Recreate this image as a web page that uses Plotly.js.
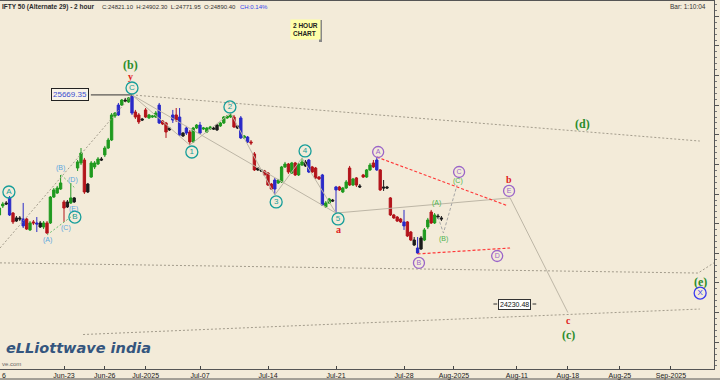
<!DOCTYPE html>
<html><head><meta charset="utf-8">
<script src="https://cdn.plot.ly/plotly-3.0.1.min.js"></script>
<style>html,body{margin:0;padding:0;background:#f3ebd9;}#chart{width:720px;height:380px;}</style>
</head><body><div id="chart"></div>
<script>
// ---- candle data (2-hour bars, bar number = position in arrays + 1) ----
const barOpen = [
 24859,24920,24940,24974,24872,24839,24839,24832,24832,24758,
 24812,24805,24805,24778,24805,24805,24980,25007,25034,24947,
 24947,24940,24974,25176,25210,25230,25068,25115,25183,25203,
 25237,25264,25311,25365,25527,25534,25601,25635,25622,25662,
 25554,25534,25507,25568,25514,25520,25520,25601,25493,25480,
 25446,25500,25534,25520,25412,25446,25419,25352,25446,25466,
 25439,25419,25439,25446,25466,25460,25480,25514,25520,25520,
 25460,25514,25379,25385,25352,25271,25176,25163,25156,25142,
 25068,25034,25075,25082,25183,25203,25142,25210,25129,25196,
 25217,25230,25183,25176,25115,25129,24913,24940,24960,25028,
 25048,25014,25041,25176,25061,25109,25055,25129,25115,25163,
 25210,25163,25163,25048,25048,24974,24859,24845,24832,24812,
 24812,24744,24690,24636,24629,24690,24778,24879,24805,24852,24839];
const barHigh = [
 24926,24947,24953,24987,24879,24852,24852,24940,24839,24818,
 24825,24845,24818,24818,24818,24987,25041,25055,25129,24960,
 24960,25075,24980,25230,25311,25244,25075,25223,25223,25250,
 25250,25325,25379,25547,25554,25615,25642,25649,25655,25669.35,
 25568,25547,25514,25581,25541,25534,25561,25615,25500,25487,
 25453,25568,25581,25581,25419,25460,25433,25453,25473,25487,
 25453,25453,25460,25453,25473,25487,25527,25534,25547,25534,
 25466,25527,25399,25392,25365,25284,25183,25169,25163,25149,
 25075,25109,25102,25190,25217,25210,25217,25217,25210,25244,
 25230,25237,25190,25183,25122,25136,24953,24974,24967,25055,
 25055,25048,25095,25190,25109,25115,25068,25136,25169,25210,
 25230,25250,25169,25095,25055,24980,24866,24852,24839,24893,
 24818,24751,24710,24710,24717,24771,24839,24893,24872,24866,24852];
const barLow = [
 24845,24906,24926,24852,24798,24812,24818,24771,24758,24751,
 24791,24744,24771,24764,24731,24798,24974,25001,25028,24812,
 24906,24933,24940,25156,25196,25001,25007,25109,25169,25196,
 25223,25250,25304,25358,25514,25527,25595,25622,25615,25534,
 25507,25473,25493,25514,25507,25514,25514,25473,25466,25379,
 25426,25480,25487,25392,25385,25399,25331,25345,25439,25406,
 25433,25412,25433,25433,25426,25453,25473,25507,25514,25446,
 25439,25372,25372,25345,25331,25156,25156,25149,25122,25055,
 25028,24994,25068,25075,25176,25136,25136,25122,25122,25190,
 25183,25142,25142,25102,25095,24920,24906,24933,24947,24872,
 25021,25007,25034,25055,25055,25048,25041,25109,25109,25156,
 25176,25156,25021,25021,25034,24852,24832,24812,24805,24758,
 24710,24683,24650,24596,24623,24683,24764,24798,24798,24832,24818];
const barClose = [
 24906,24933,24933,24859,24812,24818,24832,24785,24764,24805,
 24805,24798,24778,24805,24737,24980,25028,25041,25075,24906,
 24913,24974,24947,25217,25277,25014,25014,25210,25210,25237,
 25230,25311,25365,25534,25547,25601,25635,25628,25649,25547,
 25520,25487,25500,25520,25534,25527,25547,25480,25473,25419,
 25433,25534,25500,25399,25392,25412,25352,25446,25466,25412,
 25446,25446,25453,25439,25433,25480,25520,25527,25534,25453,
 25446,25379,25392,25352,25345,25163,25163,25156,25129,25061,
 25034,25095,25095,25183,25203,25149,25210,25129,25203,25217,
 25190,25149,25149,25109,25102,24926,24940,24967,24953,25048,
 25028,25041,25082,25061,25102,25061,25048,25115,25163,25196,
 25183,25230,25028,25041,25041,24859,24839,24818,24812,24785,
 24717,24690,24656,24602,24704,24758,24825,24805,24859,24845,24832];
// bar colour class used by the charting package: g up, r down, b wide-range, k small
const barClass = ('ggkbrkkbrg'+'rbkgrggggr'+'kgkggrkggg'+'kggggbgkgb'+'rrkrgggbrr'+
  'kbrbkbrggb'+'gggkkggggr'+'kbgbrrkkrr'+'rbgggrgrgg'+'kbrrrbggkb'+'rggrgrkrgg'+
  'rbrkkrrrrb'+'rrkbkggrgkk').split('');

// ---- x axis ticks (bar numbers) ----
const tickBars = [20, 32, 44, 60, 80, 100, 120, 134.7, 153.2, 168.2, 183.5, 198.5];
const tickLabels = ['Jun-23','Jun-26','Jul-2025','Jul-07','Jul-14','Jul-21','Jul-28','Aug-2025','Aug-11','Aug-18','Aug-25','Sep-2025'];

// ---- trend / wave lines (bar, price) ----
const upperLineBars = [40, 207];            const upperLinePrices = [25669.35, 25358];
const lowerLineBars = [0, 206.5, 211.5];    const lowerLinePrices = [24536, 24467, 24541];
const baseLineBars = [25.6, 207];           const baseLinePrices = [24052, 24224];
const riseLineBars = [1.18, 40];            const riseLinePrices = [24636, 25669.35];
const impulseBars = [40, 57, 69, 82, 90, 100];
const impulsePrices = [25669.35, 25331, 25547, 24994, 25244, 24872];
const diagBars = [40, 100];                 const diagPrices = [25669.35, 24872];
const abcBars = [100, 151.2, 168.2];        const abcPrices = [24872, 24974, 24200];
const projBars = [130, 131.6, 135.6];       const projPrices = [24845, 24737, 25061];
const redUpperBars = [112, 150.6];          const redUpperPrices = [25250, 24920];
const redLowerBars = [124, 151.2];          const redLowerPrices = [24596, 24636];
const peakLineBars = [27.9, 40];            const peakLinePrices = [25669.35, 25669.35];
const targetStubBars = [146.3, 147.4, 157.8, 158.9];
const targetStubPrices = [24258, 24258, 24258, 24258];
const greenDot1Bars = [15, 23.2];           const greenDot1Prices = [24724, 24866];
const greenDot2Bars = [19.2, 23.2];         const greenDot2Prices = [25129, 25041];

// ---- wave labels ----
const tealText = ['A','B','C','1','2','3','4','5'];
const tealBars = [3.8, 23.2, 40, 57.6, 68.8, 82.4, 90.9, 100.6];
const tealPrices = [25014, 24845, 25716, 25284, 25588, 24947, 25291, 24832];
const purpleText = ['A','B','C','D','E'];
const purpleBars = [112.4, 124.4, 136.2, 147.4, 150.9];
const purplePrices = [25284, 24535, 25149, 24582, 25021];
const blueText = ['X']; const blueBars = [207.1]; const bluePrices = [24332];
const greenBigText = ['(b)','(c)','(d)','(e)'];
const greenBigBars = [39.7, 168.5, 172.4, 207.1];
const greenBigPrices = [25872, 24046, 25473, 24407];
const redText = ['y','a','b','c'];
const redBars = [39.7, 100.6, 150.9, 168.5];
const redPrices = [25796, 24764, 25100, 24145];
const lightBlueText = ['(A)','(B)','(C)','(D)','(E)'];
const lightBlueBars = [15, 19.1, 20.6, 22.6, 22.9];
const lightBluePrices = [24690, 25176, 24771, 25095, 24899];
const smallGreenText = ['(A)','(B)','(C)'];
const smallGreenBars = [129.7, 131.5, 135.9];
const smallGreenPrices = [24940, 24697, 25088];
const peakValue = 25669.35, targetValue = 24230.48, lastPrice = 24845;

// ---------------------------------------------------------------
const BG = '#f3ebd9';
const colorOf = {g:'#1f9a1f', r:'#b3141b', b:'#2a2ac8', k:'#1c1c1c'};
const data = [];
function line(xs, ys, color, width, dash) {
  data.push({type:'scatter', mode:'lines', x:xs, y:ys, hoverinfo:'skip', showlegend:false,
    line:{color:color, width:width, dash:dash||'solid'}});
}
line(upperLineBars, upperLinePrices, '#a39c8c', 1, '2px,2px');
line(lowerLineBars, lowerLinePrices, '#a39c8c', 1, '2px,2px');
line(baseLineBars, baseLinePrices, '#a39c8c', 1, '2px,2px');
line(riseLineBars, riseLinePrices, '#a39c8c', 1, '2px,2px');
line(impulseBars, impulsePrices, '#bdb6a6', 1);
line(diagBars, diagPrices, '#bdb6a6', 1);
line(abcBars, abcPrices, '#bdb6a6', 1);
line(projBars, projPrices, '#a6a6a6', 1, '3px,2px');
line(redUpperBars, redUpperPrices, '#ff3838', 1.2, '3px,2px');
line(redLowerBars, redLowerPrices, '#ff3838', 1.2, '3px,2px');
line(peakLineBars, peakLinePrices, '#333333', 1);
line(greenDot1Bars, greenDot1Prices, '#6cbf6c', 1, '2px,2px');
line(greenDot2Bars, greenDot2Prices, '#6cbf6c', 1, '2px,2px');
data.push({type:'scatter', mode:'lines', x:[targetStubBars[0],targetStubBars[1],null,targetStubBars[2],targetStubBars[3]],
  y:[targetStubPrices[0],targetStubPrices[1],null,targetStubPrices[2],targetStubPrices[3]],
  line:{color:'#333', width:1}, hoverinfo:'skip', showlegend:false});

['g','r','b','k'].forEach(code => {
  const xs=[],o=[],h=[],l=[],c=[];
  barClass.forEach((cc,i) => { if (cc===code) { xs.push(i+1); o.push(barOpen[i]); h.push(barHigh[i]); l.push(barLow[i]); c.push(barClose[i]); } });
  const col = colorOf[code];
  data.push({type:'candlestick', x:xs, open:o, high:h, low:l, close:c, whiskerwidth:0,
    increasing:{line:{color:col, width:1}, fillcolor:col},
    decreasing:{line:{color:col, width:1}, fillcolor:col},
    hoverinfo:'skip', showlegend:false});
});

function circles(xs, ys, txt, color, size) {
  data.push({type:'scatter', mode:'markers+text', x:xs, y:ys, text:txt, textposition:'middle center',
    textfont:{family:'Liberation Sans, Arial', size:size-4, color:color},
    marker:{symbol:'circle', size:size, color:'rgba(0,0,0,0)', line:{color:color, width:1.3}},
    hoverinfo:'skip', showlegend:false, cliponaxis:false});
}
circles(tealBars, tealPrices, tealText, '#169e9a', 12);
circles(purpleBars, purplePrices, purpleText, '#9a64c8', 11);
circles(blueBars, bluePrices, blueText, '#3a3aee', 12);
// last-price marker on the price axis
data.push({type:'scatter', mode:'markers', x:[212.2], y:[lastPrice], cliponaxis:false, hoverinfo:'skip', showlegend:false,
  marker:{symbol:'triangle-left', size:9, color:'#17c617', line:{color:'#0a8a0a', width:1}}});

const ann = [];
function labels(xs, ys, txt, color, size, family, bold) {
  txt.forEach((t,i) => ann.push({x:xs[i], y:ys[i], xref:'x', yref:'y', text:t, showarrow:false,
    xanchor:'center', yanchor:'middle', font:{family:family, size:size, color:color, weight:bold?'bold':'normal'}}));
}
labels(greenBigBars, greenBigPrices, greenBigText, '#2a8c2a', 12, 'Liberation Serif, Times New Roman', true);
labels(redBars, redPrices, redText, '#e02222', 10, 'Liberation Serif, Times New Roman', true);
labels(lightBlueBars, lightBluePrices, lightBlueText, '#5aa6de', 7, 'Liberation Sans, Arial', false);
labels(smallGreenBars, smallGreenPrices, smallGreenText, '#4db34d', 7, 'Liberation Sans, Arial', false);

// price boxes
ann.push({x:21.9, y:peakValue, xref:'x', yref:'y', text:peakValue.toFixed(2), showarrow:false,
  font:{family:'Liberation Sans, Arial', size:8, color:'#3a4fd0'}, bgcolor:'#f8f3e8', bordercolor:'#222', borderwidth:1, borderpad:1});
ann.push({x:152.6, y:24258, xref:'x', yref:'y', text:targetValue.toFixed(2), showarrow:false,
  font:{family:'Liberation Sans, Arial', size:7, color:'#111'}, bgcolor:'#ffffff', bordercolor:'#333', borderwidth:1, borderpad:1});

// paper helpers (plot area: x 0..714, y 1..369 in page pixels)
const PX = x => x/714, PY = y => 1 - (y-1)/368;
function ptext(x, y, t, size, color, anchor, weight, extra) {
  ann.push(Object.assign({x:PX(x), y:PY(y), xref:'paper', yref:'paper', text:t, showarrow:false,
    xanchor:anchor||'left', yanchor:'middle', font:{family:'Liberation Sans, Arial', size:size, color:color, weight:weight||'normal'}}, extra||{}));
}
ptext(0, 7, 'IFTY 50 (Alternate 29) - 2 hour', 6.5, '#2a2a2a', 'left', 'bold');
ptext(100, 7, 'C:24821.10&nbsp;&nbsp;H:24902.30&nbsp;&nbsp;L:24771.95&nbsp;&nbsp;O:24890.40', 6, '#333');
ptext(238, 7, 'CH:0.14%', 6, '#3344ee');
ptext(708, 6, 'Bar: 1:10:04', 6.5, '#333', 'right');
ptext(290, 30, '2 HOUR<br>CHART', 6.5, '#222', 'left', 'bold', {bgcolor:'#ffffa8', borderpad:2, align:'left'});
ptext(4, 348, 'eLLiottwave india', 14.5, '#34557e', 'left', 'bold', {font:{family:'DejaVu Sans, Arial', size:14.5, color:'#34557e', weight:'bold', style:'italic'}});
ptext(0, 364, 've.com', 6, '#666');
ptext(0, 375, '6', 7, '#222');

const layout = {
  width:720, height:380, margin:{l:0, r:6, t:1, b:11},
  paper_bgcolor:BG, plot_bgcolor:BG, showlegend:false,
  xaxis:{range:[1.1765, 211.176], tickmode:'array', tickvals:tickBars, ticktext:tickLabels,
    ticks:'inside', ticklen:3, tickcolor:'#444', showgrid:false, zeroline:false,
    showline:true, linecolor:'#555', linewidth:1, mirror:true,
    tickfont:{family:'Liberation Sans, Arial', size:7, color:'#222'}, rangeslider:{visible:false}, fixedrange:true},
  yaxis:{range:[23819.25, 26303.25], side:'right', dtick:200, tick0:24000, ticks:'outside', ticklen:4, tickcolor:'#555',
    minor:{dtick:40, ticks:'outside', ticklen:2, tickcolor:'#777'},
    showgrid:false, zeroline:false, showline:true, linecolor:'#555', linewidth:1,
    tickfont:{family:'Liberation Sans, Arial', size:7, color:'#333'}, automargin:false, fixedrange:true},
  annotations:ann,
  shapes:[
    {type:'rect', xref:'paper', yref:'paper', x0:PX(319), x1:PX(322), y0:PY(42), y1:PY(20), fillcolor:'#888', line:{width:0}},
    {type:'line', xref:'paper', yref:'paper', x0:0, x1:1.01, y0:PY(379), y1:PY(379), line:{color:'#555', width:1}}
  ],
  boxgap:0.02
};
Plotly.newPlot('chart', data, layout, {staticPlot:true, displayModeBar:false});
</script></body></html>
